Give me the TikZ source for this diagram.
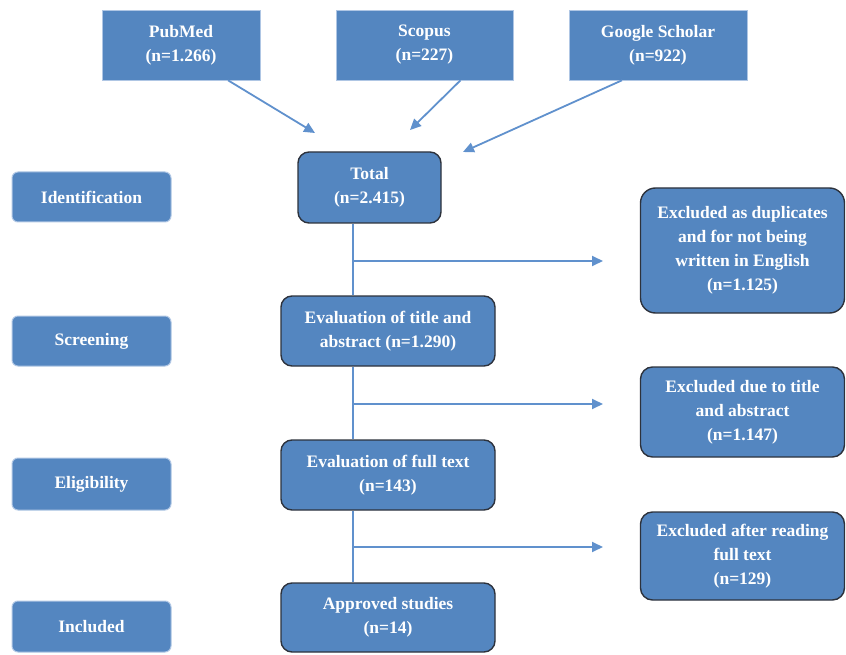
\documentclass[tikz,border=0pt]{standalone}
\usepackage{fontspec}
\setmainfont{Liberation Serif}
\usepackage{tikz}
\usetikzlibrary{positioning, arrows.meta}
\definecolor{prismablue}{RGB}{84,134,192}
\definecolor{linkblue}{RGB}{96,145,205}
\definecolor{edgegray}{RGB}{45,50,60}
\definecolor{paleedge}{RGB}{175,198,228}

\begin{document}
\begin{tikzpicture}[x=1pt, y=-1pt,
  every node/.style={text=white, align=center, inner sep=0pt,
    font=\bfseries\fontsize{17.5}{24}\selectfont},
  srcbox/.style={fill=prismablue, draw=paleedge, line width=0.6pt,
    minimum height=70pt},
  stagebox/.style={fill=prismablue, draw=paleedge, line width=1pt,
    rounded corners=6pt, minimum width=159pt},
  flowbox/.style={fill=prismablue, draw=edgegray, line width=1.4pt,
    rounded corners=11pt},
  exbox/.style={fill=prismablue, draw=edgegray, line width=1.4pt,
    rounded corners=15pt, minimum width=204pt},
  link/.style={draw=linkblue, line width=1.8pt},
  arrowlink/.style={link, -{Triangle[length=11pt, width=10pt]}}]

  \useasboundingbox (0,0) rectangle (846,655);

  % databases
  \node[srcbox, minimum width=158pt] (pubmed) at (181,45) {PubMed\\(n=1.266)};
  \node[srcbox, minimum width=177pt] (scopus) at (424.5,45) {Scopus\\(n=227)};
  \node[srcbox, minimum width=178pt] (scholar) at (658,45) {Google Scholar\\(n=922)};

  % stages on the left
  \node[stagebox, minimum height=50pt] (identification) at (91.5,197) {Identification};
  \node[stagebox, minimum height=50pt] (screening) at (91.5,341) {Screening};
  \node[stagebox, minimum height=52pt] (eligibility) at (91.5,484) {Eligibility};
  \node[stagebox, minimum height=51pt] (included) at (91.5,626.5) {Included};

  % main flow
  \node[flowbox, minimum width=143pt, minimum height=71pt] (total) at (369.5,187.5) {Total\\(n=2.415)};
  \node[flowbox, minimum width=214pt, minimum height=70pt] (evaltitle) at (388,331) {Evaluation of title and\\abstract (n=1.290)};
  \node[flowbox, minimum width=214pt, minimum height=70pt] (evalfull) at (388,475) {Evaluation of full text\\(n=143)};
  \node[flowbox, minimum width=214pt, minimum height=69pt] (approved) at (388,617.5) {Approved studies\\(n=14)};

  % exclusions
  \node[exbox, minimum height=125pt] (exdup) at (742.5,250.5) {Excluded as duplicates\\and for not being\\written in English\\(n=1.125)};
  \node[exbox, minimum height=90pt, rounded corners=12pt] (extitle) at (742.5,412) {Excluded due to title\\and abstract\\(n=1.147)};
  \node[exbox, minimum height=88pt, rounded corners=12pt] (exfull) at (742.5,556) {Excluded after reading\\full text\\(n=129)};

  % arrows into total
  \coordinate (pubmedtip) at (315,133);
  \coordinate (scopustip) at (410,130);
  \coordinate (scholartip) at (463,152);
  \draw[arrowlink] ([xshift=47pt]pubmed.south) -- (pubmedtip);
  \draw[arrowlink] ([xshift=36pt]scopus.south) -- (scopustip);
  \draw[arrowlink] ([xshift=-36pt]scholar.south) -- (scholartip);

  % trunk and branches
  \coordinate (trunk) at (353,0);
  \coordinate (dupend) at (603,261);
  \coordinate (titleend) at (603,404);
  \coordinate (fullend) at (603,547);
  \draw[link] (total.south -| trunk) -- (evaltitle.north -| trunk);
  \draw[link] (evaltitle.south -| trunk) -- (evalfull.north -| trunk);
  \draw[link] (evalfull.south -| trunk) -- (approved.north -| trunk);
  \draw[arrowlink] (dupend -| trunk) -- (dupend);
  \draw[arrowlink] (titleend -| trunk) -- (titleend);
  \draw[arrowlink] (fullend -| trunk) -- (fullend);
\end{tikzpicture}
\end{document}
